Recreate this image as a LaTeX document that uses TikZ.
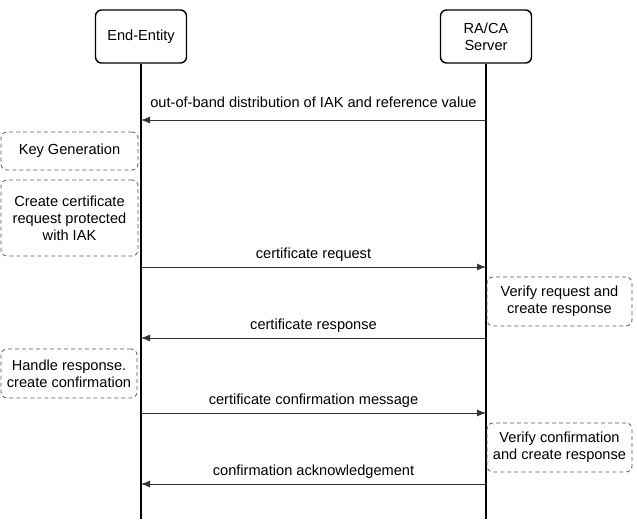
\documentclass[tikz,border=0pt]{standalone}
\usepackage{fontspec}
\setmainfont{Liberation Sans}
\usetikzlibrary{arrows.meta, positioning}

\tikzset{
    actor/.style={draw, line width=1.4pt, rounded corners=6pt, align=center,
        minimum width=91pt, minimum height=53pt},
    note/.style={draw=black!65, dashed, dash pattern=on 4pt off 3pt, line width=0.8pt,
        rounded corners=6pt, align=center, inner sep=0pt},
    lifeline/.style={line width=1.5pt},
    msg/.style={->, draw=black!80, line width=0.9pt},
    msglabel/.style={inner sep=0pt, text height=10pt, text depth=3pt, above=5pt},
}

\begin{document}
\begin{tikzpicture}[>={Latex[length=9pt,width=7pt]}, x=1pt, y=-1pt,
    font=\fontsize{14.6}{17}\selectfont]
    \useasboundingbox (0,0) rectangle (637,522);

    % 1. Teilnehmer und Lebenslinien
    \node[actor] (ee) at (141,36.5) {End-Entity};
    \node[actor] (rc) at (486,36.5) {RA/CA\\Server};
    \coordinate (eeEnd) at (ee.south |- 0,519);
    \coordinate (rcEnd) at (rc.south |- 0,519);
    \draw[lifeline] (ee.south) -- (eeEnd);
    \draw[lifeline] (rc.south) -- (rcEnd);

    % 2. Punkte der Nachrichten
    \foreach \n/\y in {1/120, 2/267, 3/338, 4/413, 5/484} {
        \coordinate (ee\n) at (ee.south |- 0,\y);
        \coordinate (rc\n) at (rc.south |- 0,\y);
    }

    % 3. Nachrichten
    \draw[msg] (rc1) -- node[msglabel, above=9pt] {out-of-band distribution of IAK and reference value} (ee1);
    \draw[msg] (ee2) -- node[msglabel] {certificate request} (rc2);
    \draw[msg] (rc3) -- node[msglabel] {certificate response} (ee3);
    \draw[msg] (ee4) -- node[msglabel] {certificate confirmation message} (rc4);
    \draw[msg] (rc5) -- node[msglabel] {confirmation acknowledgement} (ee5);

    % 4. Aktivitaeten (gestrichelt)
    \node[note, minimum width=137pt, minimum height=38pt] (keygen) at (69.5,151) {Key Generation};
    \node[note, minimum width=137pt, minimum height=76pt] (createreq) at (69.5,218)
        {Create certificate\\request protected\\with IAK};
    \node[note, minimum width=145pt, minimum height=49pt] (verifyreq) at (559.5,301.5)
        {Verify request and\\create response};
    \node[note, minimum width=136pt, minimum height=49pt] (handleresp) at (69,373.5)
        {Handle response.\\create confirmation};
    \node[note, minimum width=145pt, minimum height=49pt] (verifyconf) at (559.5,447.5)
        {Verify confirmation\\and create response};
\end{tikzpicture}
\end{document}
